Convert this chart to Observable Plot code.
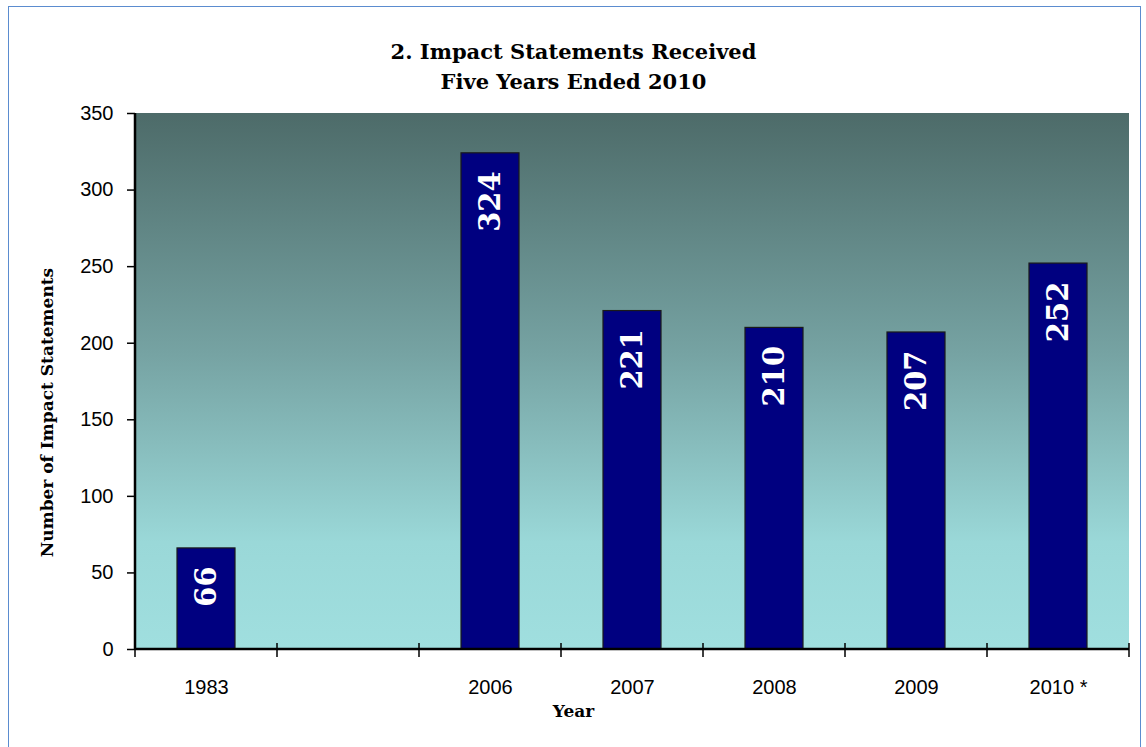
<!DOCTYPE html>
<html>
<head>
<meta charset="utf-8">
<script src="https://cdn.jsdelivr.net/npm/d3@7"></script>
<script src="https://cdn.jsdelivr.net/npm/@observablehq/plot@0.6"></script>
<style>
  html, body { margin: 0; padding: 0; background: #fff; }
  #frame { position: absolute; left: 8px; top: 6px; width: 1133px; height: 760px; border: 1.5px solid #5b8ccf; box-sizing: border-box; }
  #chart { position: absolute; left: 0; top: 0; }
</style>
</head>
<body>
<div id="frame"></div>
<div id="chart"></div>
<script>
const categories = ["1983", "", "2006", "2007", "2008", "2009", "2010 *"];
const barYears = ["1983", "2006", "2007", "2008", "2009", "2010 *"];
const barValues = [66, 324, 221, 210, 207, 252];
const yTicks = [0, 50, 100, 150, 200, 250, 300, 350];
const titleLines = ["2. Impact Statements Received", "Five Years Ended 2010"];
const yLabel = "Number of Impact Statements";
const xLabel = "Year";

const bars = barYears.map((c, i) => ({cat: c, value: barValues[i]}));
const serif = "'DejaVu Serif', serif";
const sans = "'Liberation Sans', Arial, sans-serif";

const background = (index, scales, values, dims) => {
  const ns = "http://www.w3.org/2000/svg";
  const g = document.createElementNS(ns, "g");
  const defs = document.createElementNS(ns, "defs");
  defs.innerHTML = `<linearGradient id="bgGrad" x1="0" y1="0" x2="0" y2="1">
      <stop offset="0" stop-color="#4d6b69"/>
      <stop offset="0.45" stop-color="#76a3a3"/>
      <stop offset="0.8" stop-color="#9ad8d8"/>
      <stop offset="1" stop-color="#a0dfdf"/>
    </linearGradient>`;
  g.appendChild(defs);
  const r = document.createElementNS(ns, "rect");
  r.setAttribute("x", dims.marginLeft);
  r.setAttribute("y", dims.marginTop);
  r.setAttribute("width", dims.width - dims.marginLeft - dims.marginRight);
  r.setAttribute("height", dims.height - dims.marginTop - dims.marginBottom);
  r.setAttribute("fill", "url(#bgGrad)");
  g.appendChild(r);
  return g;
};

const boundaryTicks = (index, scales, values, dims) => {
  const ns = "http://www.w3.org/2000/svg";
  const g = document.createElementNS(ns, "g");
  const x = scales.x;
  const y0 = scales.y(0);
  const step = x.step();
  const xs = categories.map(c => x(c) + x.bandwidth() / 2 - step / 2);
  xs.push(xs[xs.length - 1] + step);
  for (const px of xs) {
    const l = document.createElementNS(ns, "line");
    l.setAttribute("x1", px); l.setAttribute("x2", px);
    l.setAttribute("y1", y0 - 6); l.setAttribute("y2", y0 + 8);
    l.setAttribute("stroke", "#000"); l.setAttribute("stroke-width", 1.5);
    g.appendChild(l);
  }
  const ax = document.createElementNS(ns, "line");
  ax.setAttribute("x1", dims.marginLeft); ax.setAttribute("x2", dims.width - dims.marginRight);
  ax.setAttribute("y1", y0); ax.setAttribute("y2", y0);
  ax.setAttribute("stroke", "#000"); ax.setAttribute("stroke-width", 2.5);
  g.appendChild(ax);
  const ay = document.createElementNS(ns, "line");
  ay.setAttribute("x1", dims.marginLeft); ay.setAttribute("x2", dims.marginLeft);
  ay.setAttribute("y1", dims.marginTop); ay.setAttribute("y2", y0);
  ay.setAttribute("stroke", "#000"); ay.setAttribute("stroke-width", 2.5);
  g.appendChild(ay);
  return g;
};

const plot = Plot.plot({
  width: 1146,
  height: 747,
  marginLeft: 135,
  marginRight: 17,
  marginTop: 113,
  marginBottom: 98,
  style: {background: "transparent", overflow: "visible"},
  x: {domain: categories, paddingInner: 0.59, paddingOuter: 0.295, align: 0.5, label: null},
  y: {domain: [0, 350], label: null},
  marks: [
    background,
    Plot.barY(bars, {x: "cat", y: "value", fill: "#000080", stroke: "#1a1a1a", strokeWidth: 1.2}),
    Plot.text(bars, {x: "cat", y: "value", text: d => String(d.value), rotate: -90, textAnchor: "end", dy: 18,
      fill: "#fff", fontFamily: serif, fontWeight: "bold", fontSize: 29}),
    Plot.axisY({ticks: yTicks, tickSize: 8, tickPadding: 14, tickFormat: d => String(d), fontSize: 20, fontFamily: sans, color: "#000", strokeWidth: 1.5, label: null}),
    Plot.axisX({tickSize: 0, tickPadding: 30, fontSize: 20, fontFamily: sans, color: "#000", label: null}),
    boundaryTicks,
    Plot.text([titleLines[0]], {frameAnchor: "top", dx: -59, dy: -69, text: d => d, fontFamily: serif, fontWeight: "bold", fontSize: 21, fill: "#000"}),
    Plot.text([titleLines[1]], {frameAnchor: "top", dx: -59, dy: -39, text: d => d, fontFamily: serif, fontWeight: "bold", fontSize: 21, fill: "#000"}),
    Plot.text([yLabel], {frameAnchor: "left", textAnchor: "middle", dx: -88, dy: 31, rotate: -90, text: d => d, fontFamily: serif, fontWeight: "bold", fontSize: 17, fill: "#000"}),
    Plot.text([xLabel], {frameAnchor: "bottom", dx: -59, dy: 67, text: d => d, fontFamily: serif, fontWeight: "bold", fontSize: 17, fill: "#000"})
  ]
});
document.getElementById("chart").appendChild(plot);
</script>
</body>
</html>
